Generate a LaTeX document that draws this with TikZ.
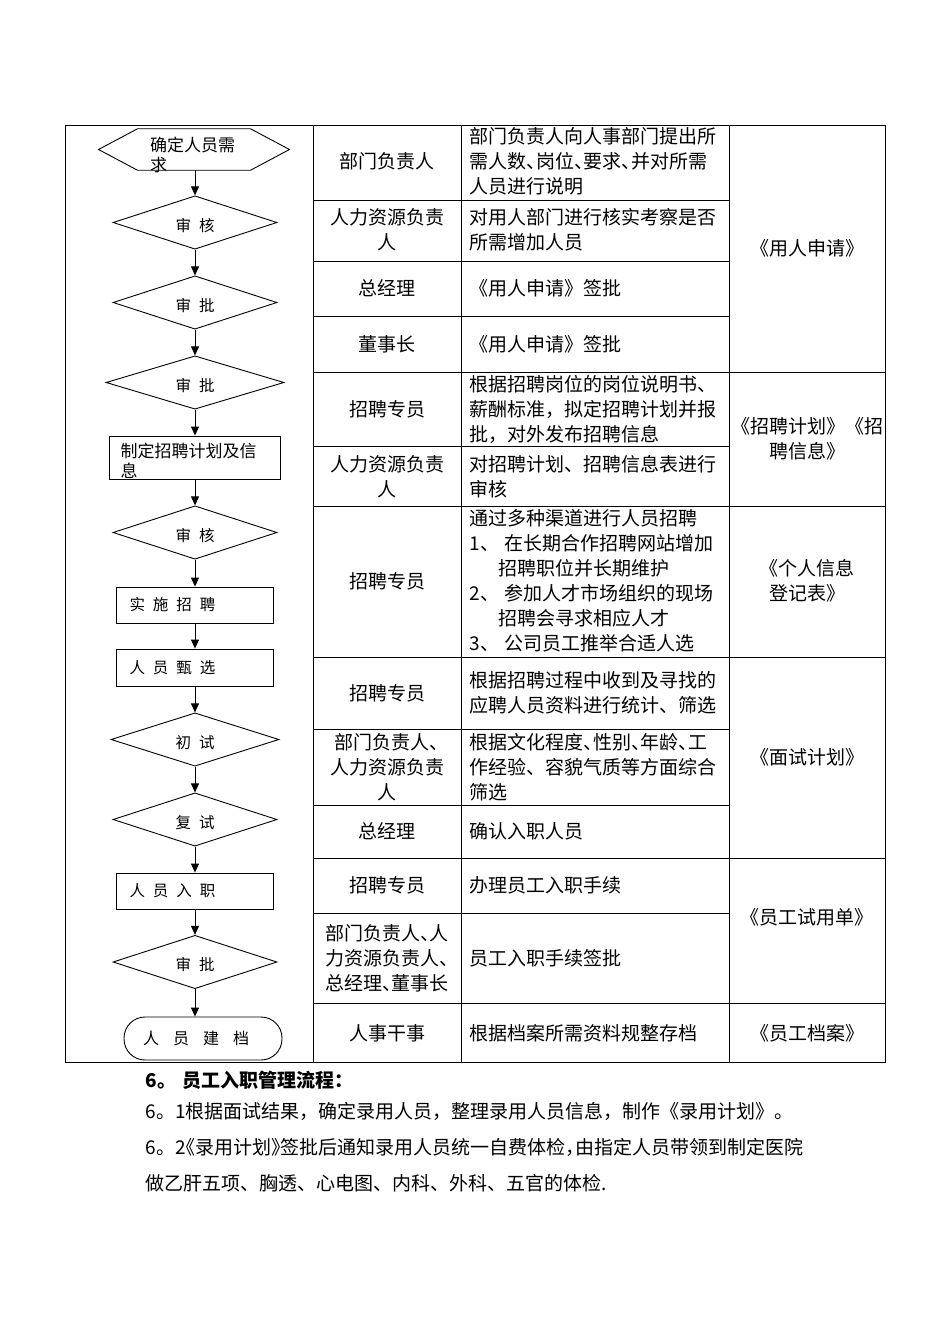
\documentclass[tikz,border=0pt]{standalone}
\usepackage{fontspec}
\setmainfont{Noto Sans CJK SC}
\usetikzlibrary{shapes.geometric, arrows.meta}
\newcommand{\lpunct}[1]{\makebox[0.5em][l]{#1}}
\newcommand{\rpunct}[1]{\makebox[0.5em][r]{#1}}
\newcommand{\gap}{\hspace{8pt}}
% move text down without changing the box it takes
\newcommand{\sunk}[2][-3pt]{\raisebox{#1}[\height][\depth]{#2}}

\begin{document}
\begin{tikzpicture}[x=1pt, y=-1pt, line width=0.9pt,
  flow/.style={draw, inner sep=0pt, font=\fontsize{15.5}{20}\selectfont},
  decide/.style={flow, diamond, minimum width=164pt, minimum height=53pt},
  proc/.style={flow, rectangle, minimum width=157pt, minimum height=36pt,
    text width=131pt, align=left},
  link/.style={-{Triangle[length=9pt, width=8pt]}},
  role/.style={font=\fontsize{19}{25}\selectfont, align=center},
  desc/.style={font=\fontsize{19}{25}\selectfont, align=left, anchor=west},
  doc/.style={font=\fontsize{19}{25}\selectfont, align=center},
  para/.style={font=\fontsize{19}{25}\selectfont, anchor=west}]
  \useasboundingbox (0,0) rectangle (950,1344);

  % table frame
  \draw (65,125) rectangle (885,1062);
  \foreach \x in {313, 461, 729}
    \draw (\x,125) -- (\x,1062);
  \foreach \y in {200, 261, 316, 372, 446, 506, 657, 729, 805, 858, 913, 1003}
    \draw (313,\y) -- (729,\y);
  \foreach \y in {372, 506, 657, 858, 1003}
    \draw (729,\y) -- (885,\y);

  % flow chart
  \node[inner sep=0pt, minimum width=190pt, minimum height=39pt, text width=88pt,
    align=left, font=\fontsize{17}{20}\selectfont] (need) at (194,149.5)
    {\sunk[-8pt]{\begin{tabular}{@{}l@{}}确定人员需\\求\end{tabular}}};
  \draw (need.west) -- ([xshift=39pt]need.north west) -- ([xshift=-39pt]need.north east)
    -- (need.east) -- ([xshift=-39pt]need.south east) -- ([xshift=39pt]need.south west) -- cycle;
  \node[decide] (chk1) at (195,222.5) {\sunk{审\gap 核}};
  \node[decide] (apv1) at (195,302.5) {\sunk{审\gap 批}};
  \node[decide, minimum width=178pt] (apv2) at (195,382.5) {\sunk{审\gap 批}};
  \node[proc, minimum width=171pt, minimum height=43pt, text width=149pt,
    font=\fontsize{17}{20}\selectfont] (plan) at (195,457.5)
    {\sunk[-6pt]{\begin{tabular}{@{}l@{}}制定招聘计划及信\\息\end{tabular}}};
  \node[decide] (chk2) at (195,532.5) {\sunk{审\gap 核}};
  \node[proc] (run) at (195,605) {实\gap 施\gap 招\gap 聘};
  \node[proc, minimum height=37pt] (pick) at (195,667.5) {人\gap 员\gap 甄\gap 选};
  \node[decide, minimum width=168pt] (first) at (195,739.5) {\sunk{初\gap 试}};
  \node[decide] (second) at (195,819.5) {\sunk{复\gap 试}};
  \node[proc] (hire) at (195,891) {人\gap 员\gap 入\gap 职};
  \node[decide] (apv3) at (195,962) {\sunk{审\gap 批}};
  \node[flow, rectangle, rounded corners=21pt, minimum width=158pt, minimum height=43pt,
    text width=120pt, align=left, font=\fontsize{16}{20}\selectfont]
    (store) at (203,1038.5) {人\hspace{14pt}员\hspace{14pt}建\hspace{14pt}档};

  \draw[link] (need.south -| chk1) -- (chk1.north);
  \draw[link] (chk1.south) -- (apv1.north);
  \draw[link] (apv1.south) -- (apv2.north);
  \draw[link] (apv2.south) -- (plan.north);
  \draw[link] (plan.south) -- (chk2.north);
  \draw[link] (chk2.south) -- (run.north);
  \draw[link] (run.south) -- (pick.north);
  \draw[link] (pick.south) -- (first.north);
  \draw[link] (first.south) -- (second.north);
  \draw[link] (second.south) -- (hire.north);
  \draw[link] (hire.south) -- (apv3.north);
  \draw[link] (apv3.south) -- (apv3.south |- store.north);

  % roles
  \node[role] (r1) at (387,161) {部门负责人};
  \node[role] (r2) at (387,230) {人力资源负责\\人};
  \node[role] (r3) at (387,288) {总经理};
  \node[role] (r4) at (387,344) {董事长};
  \node[role] (r5) at (387,409) {招聘专员};
  \node[role] (r6) at (387,477) {人力资源负责\\人};
  \node[role] (r7) at (387,581) {招聘专员};
  \node[role] (r8) at (387,693) {招聘专员};
  \node[role] (r9) at (387,767) {部门负责人\lpunct{、}\\人力资源负责\\人};
  \node[role] (r10) at (387,831) {总经理};
  \node[role] (r11) at (387,885) {招聘专员};
  \node[role] (r12) at (387,958) {部门负责人\lpunct{、}人\\力资源负责人\lpunct{、}\\总经理\lpunct{、}董事长};
  \node[role] (r13) at (387,1033) {人事干事};

  % duties
  \node[desc] (d1) at (466,161) {部门负责人向人事部门提出所\\需人数\lpunct{、}岗位\lpunct{、}要求\lpunct{、}并对所需\\人员进行说明};
  \node[desc] (d2) at (466,230) {对用人部门进行核实考察是否\\所需增加人员};
  \node[desc] (d3) at (466,288) {《用人申请》签批};
  \node[desc] (d4) at (466,344) {《用人申请》签批};
  \node[desc] (d5) at (466,409) {根据招聘岗位的岗位说明书、\\薪酬标准，拟定招聘计划并报\\批，对外发布招聘信息};
  \node[desc] (d6) at (466,477) {对招聘计划、招聘信息表进行\\审核};
  \node[desc] (d7) at (466,581) {通过多种渠道进行人员招聘\\1、\hspace{5pt}在长期合作招聘网站增加\\
    \hspace{29pt}招聘职位并长期维护\\2、\hspace{5pt}参加人才市场组织的现场\\
    \hspace{29pt}招聘会寻求相应人才\\3、\hspace{5pt}公司员工推举合适人选};
  \node[desc] (d8) at (466,693) {根据招聘过程中收到及寻找的\\应聘人员资料进行统计、筛选};
  \node[desc] (d9) at (466,767) {根据文化程度\lpunct{、}性别\lpunct{、}年龄\lpunct{、}工\\作经验、容貌气质等方面综合\\筛选};
  \node[desc] (d10) at (466,831) {确认入职人员};
  \node[desc] (d11) at (466,885) {办理员工入职手续};
  \node[desc] (d12) at (466,958) {员工入职手续签批};
  \node[desc] (d13) at (466,1033) {根据档案所需资料规整存档};

  % forms
  \node[doc] (f1) at (807,248) {《用人申请》};
  \node[doc] (f2) at (807,439) {《招聘计划》《招\\聘信息》};
  \node[doc] (f3) at (807,581) {《个人信息\\登记表》};
  \node[doc] (f4) at (807,757) {《面试计划》};
  \node[doc] (f5) at (807,917) {《员工试用单》};
  \node[doc] (f6) at (807,1033) {《员工档案》};

  % text below
  \node[para, font=\fontsize{19}{25}\selectfont\bfseries] (head) at (142,1080) {6。\hspace{6pt}员工入职管理流程：};
  \node[para] (p1) at (142,1111) {6。1根据面试结果，确定录用人员，整理录用人员信息，制作《录用计划》。};
  \node[para] (p2) at (142,1147) {6。2\rpunct{《}录用计划\lpunct{》}签批后通知录用人员统一自费体检\lpunct{，}由指定人员带领到制定医院};
  \node[para] (p3) at (142,1183) {做乙肝五项、胸透、心电图、内科、外科、五官的体检.};
\end{tikzpicture}
\end{document}
